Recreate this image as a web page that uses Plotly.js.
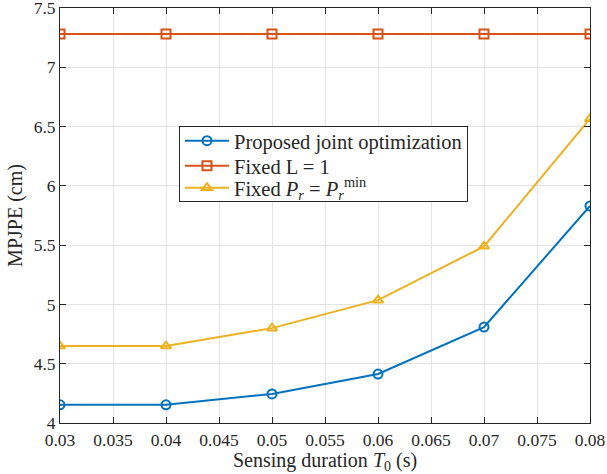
<!DOCTYPE html>
<html>
<head>
<meta charset="utf-8">
<script src="https://cdn.plot.ly/plotly-3.0.1.min.js"></script>
<style>html,body{margin:0;padding:0;background:#fff;}#chart{width:607px;height:474px;}</style>
</head>
<body>
<div id="chart"></div>
<script>
const sensingDuration = [0.03, 0.04, 0.05, 0.06, 0.07, 0.08];
const proposedJoint = [4.153, 4.153, 4.245, 4.413, 4.809, 5.83];
const fixedL1 = [7.28, 7.28, 7.28, 7.28, 7.28, 7.28];
const fixedPrMin = [4.649, 4.649, 4.80, 5.036, 5.49, 6.566];
const seriesNames = [
  'Proposed joint optimization',
  'Fixed L = 1',
  'Fixed <i>P</i><sub><i>r</i></sub> = <i>P</i><sub><i>r</i></sub><sup>min</sup>'
];
const xTickVals = [0.03, 0.035, 0.04, 0.045, 0.05, 0.055, 0.06, 0.065, 0.07, 0.075, 0.08];
const xTickText = ['0.03','0.035','0.04','0.045','0.05','0.055','0.06','0.065','0.07','0.075','0.08'];
const yTickVals = [4, 4.5, 5, 5.5, 6, 6.5, 7, 7.5];
const yTickText = ['4','4.5','5','5.5','6','6.5','7','7.5'];

const font = "'Liberation Serif', 'Times New Roman', serif";
function tr(y, name, color, symbol) {
  return {x: sensingDuration, y: y, name: name, type: 'scatter', mode: 'lines+markers',
    line: {color: color, width: 2},
    marker: {symbol: symbol, size: 9, color: color, line: {color: color, width: 2}}};
}
const data = [
  tr(proposedJoint, seriesNames[0], '#0072BD', 'circle-open'),
  tr(fixedL1, seriesNames[1], '#D95319', 'square-open'),
  tr(fixedPrMin, seriesNames[2], '#EDB120', 'triangle-up-open')
];
const axisCommon = {showline: true, mirror: 'ticks', linecolor: '#262626', linewidth: 1,
  ticks: 'inside', ticklen: 6, tickcolor: '#262626', showgrid: true, gridcolor: '#e3e3e3', gridwidth: 1,
  zeroline: false, ticklabeloverflow: 'allow', tickfont: {family: font, size: 17.5, color: '#262626'}};
const layout = {
  width: 607, height: 474,
  margin: {l: 60, r: 17, t: 8, b: 51},
  paper_bgcolor: '#fff', plot_bgcolor: '#fff',
  font: {family: font, color: '#262626'},
  xaxis: Object.assign({}, axisCommon, {range: [0.03, 0.08], tickvals: xTickVals, ticktext: xTickText,
    ticklabelstandoff: 1,
    title: {text: 'Sensing duration <i>T</i><sub>0</sub> (s)', font: {family: font, size: 20, color: '#262626'}, standoff: 2}}),
  yaxis: Object.assign({}, axisCommon, {range: [4, 7.5], tickvals: yTickVals, ticktext: yTickText,
    title: {text: 'MPJPE (cm)', font: {family: font, size: 20, color: '#262626'}, standoff: 5}}),
  showlegend: true,
  legend: {x: 0.2245, y: 0.716, xanchor: 'left', yanchor: 'top', bgcolor: '#fff',
    bordercolor: '#262626', borderwidth: 1, font: {family: font, size: 20.5, color: '#262626'},
    tracegroupgap: 0, itemwidth: 44}
};
Plotly.newPlot('chart', data, layout, {staticPlot: true, displayModeBar: false}).then(function (gd) {
  // tighten legend row spacing to match the compact MATLAB legend
  const leg = gd.querySelector('.legend');
  if (!leg) return;
  const items = leg.querySelectorAll('.traces');
  const offsets = [0, 25, 47];
  let y0 = null;
  items.forEach(function (g, i) {
    const m = /translate\(\s*([-\d.]+)[ ,]+([-\d.]+)\s*\)/.exec(g.getAttribute('transform') || '');
    if (!m) return;
    if (y0 === null) y0 = parseFloat(m[2]) - 6;
    g.setAttribute('transform', 'translate(' + m[1] + ',' + (y0 + offsets[i]) + ')');
  });
  const bg = leg.querySelector('rect.bg');
  if (bg && y0 !== null) bg.setAttribute('height', 75);
});
</script>
</body>
</html>
